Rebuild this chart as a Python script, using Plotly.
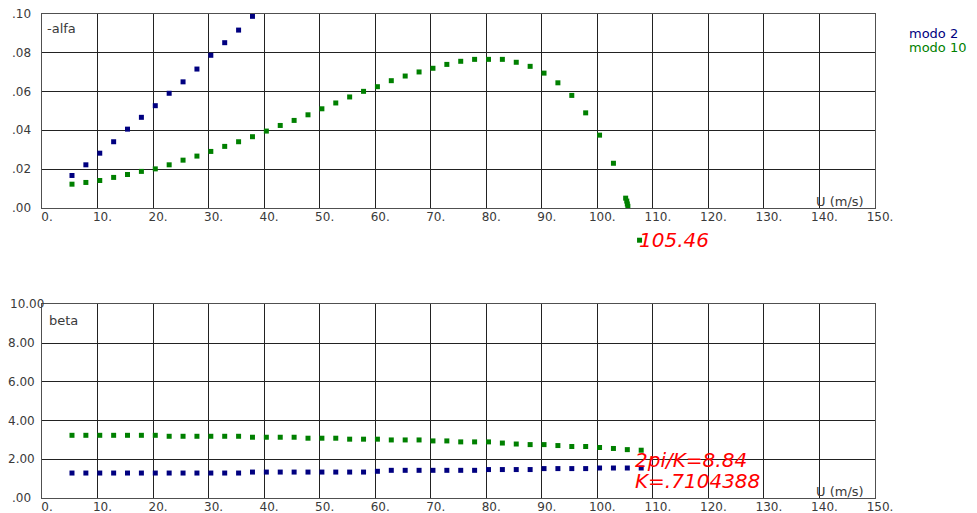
import plotly.graph_objects as go

# ---------------- data ----------------
u_modo2_top = [5.4, 7.9, 10.4, 12.9, 15.4, 17.9, 20.4, 22.9, 25.4, 27.9, 30.4, 32.9, 35.4, 37.9]
alfa_modo2 = [0.0167, 0.0222, 0.0282, 0.0341, 0.0406, 0.0467, 0.0527, 0.0591, 0.0650,
              0.0716, 0.0787, 0.0852, 0.0917, 0.0988]

u_modo10_top = [5.4, 7.9, 10.4, 12.9, 15.4, 17.9, 20.4, 22.9, 25.4, 27.9, 30.4, 32.9, 35.4,
                37.9, 40.4, 42.9, 45.4, 47.9, 50.4, 52.9, 55.4, 57.9, 60.4, 62.9, 65.4, 67.9,
                70.4, 72.9, 75.4, 77.9, 80.4, 82.9, 85.4, 87.9, 90.4, 92.9, 95.4, 97.9, 100.4,
                102.9, 105.1, 105.3, 105.4, 105.5]
alfa_modo10 = [0.0122, 0.0131, 0.0141, 0.0157, 0.0172, 0.0188, 0.0201, 0.0222, 0.0246, 0.0267,
               0.0291, 0.0317, 0.0341, 0.0367, 0.0396, 0.0425, 0.0451, 0.0480, 0.0511, 0.0541,
               0.0572, 0.0601, 0.0625, 0.0656, 0.0680, 0.0701, 0.0720, 0.0740, 0.0756, 0.0766,
               0.0766, 0.0766, 0.0751, 0.0730, 0.0695, 0.0645, 0.0580, 0.0490, 0.0375, 0.0230,
               0.0050, 0.0035, 0.0020, 0.0008]

flutter_u = [107.6]
flutter_alfa = [-0.0167]
flutter_label = "105.46"

u_beta = [5.4, 7.9, 10.4, 12.9, 15.4, 17.9, 20.4, 22.9, 25.4, 27.9, 30.4, 32.9, 35.4, 37.9,
          40.4, 42.9, 45.4, 47.9, 50.4, 52.9, 55.4, 57.9, 60.4, 62.9, 65.4, 67.9, 70.4, 72.9,
          75.4, 77.9, 80.4, 82.9, 85.4, 87.9, 90.4, 92.9, 95.4, 97.9, 100.4, 102.9, 105.4, 107.9]
beta_modo2 = [1.29, 1.29, 1.29, 1.29, 1.29, 1.29, 1.29, 1.29, 1.29, 1.29, 1.29, 1.29, 1.29,
              1.34, 1.34, 1.34, 1.34, 1.34, 1.34, 1.34, 1.34, 1.34, 1.38, 1.43, 1.43, 1.43,
              1.43, 1.43, 1.43, 1.43, 1.47, 1.47, 1.47, 1.47, 1.52, 1.52, 1.52, 1.52, 1.55,
              1.55, 1.55, 1.55]
beta_modo10 = [3.24, 3.24, 3.24, 3.24, 3.24, 3.24, 3.24, 3.19, 3.19, 3.19, 3.19, 3.19, 3.19,
               3.14, 3.14, 3.14, 3.14, 3.09, 3.09, 3.09, 3.04, 3.04, 3.04, 3.00, 3.00, 3.00,
               2.95, 2.95, 2.90, 2.90, 2.90, 2.84, 2.79, 2.76, 2.76, 2.71, 2.66, 2.66, 2.61,
               2.56, 2.50, 2.47]

x_ticks = [0, 10, 20, 30, 40, 50, 60, 70, 80, 90, 100, 110, 120, 130, 140, 150]
x_ticktext = ["0.", "10.", "20.", "30.", "40.", "50.", "60.", "70.", "80.", "90.", "100.",
              "110.", "120.", "130.", "140.", "150."]
alfa_ticks = [0.0, 0.02, 0.04, 0.06, 0.08, 0.10]
alfa_ticktext = [".00", ".02", ".04", ".06", ".08", ".10"]
beta_ticks = [0, 2, 4, 6, 8, 10]
beta_ticktext = [".00", "2.00", "4.00", "6.00", "8.00", "10.00"]

NAVY = "#000080"
GREEN = "#008000"
TXT = "#3a3a3a"
FONT = "DejaVu Sans"

# layout geometry
U_RANGE = [0, 150]
Y1_DOM = [0.5995, 1.0]
Y2_DOM = [0.0, 0.3998]
Y3_DOM = [0.5, 1.0]           # invisible helper axes, same scale as x/y, reaching below
ALFA_RANGE = [0.0, 0.10]
span1 = (ALFA_RANGE[1] - ALFA_RANGE[0]) / (Y1_DOM[1] - Y1_DOM[0])
Y3_RANGE = [ALFA_RANGE[1] - span1 * (Y3_DOM[1] - Y3_DOM[0]), ALFA_RANGE[1]]
LEFT_MARGIN = 34

fig = go.Figure()
mk = dict(symbol="square", size=5, line=dict(width=0))
fig.add_trace(go.Scatter(x=u_modo2_top, y=alfa_modo2, mode="markers", marker=dict(color=NAVY, **mk),
                         xaxis="x", yaxis="y", cliponaxis=False, showlegend=False))
fig.add_trace(go.Scatter(x=u_modo10_top, y=alfa_modo10, mode="markers", marker=dict(color=GREEN, **mk),
                         xaxis="x", yaxis="y", cliponaxis=False, showlegend=False))
fig.add_trace(go.Scatter(x=u_beta, y=beta_modo10, mode="markers", marker=dict(color=GREEN, **mk),
                         xaxis="x2", yaxis="y2", cliponaxis=False, showlegend=False))
fig.add_trace(go.Scatter(x=u_beta, y=beta_modo2, mode="markers", marker=dict(color=NAVY, **mk),
                         xaxis="x2", yaxis="y2", cliponaxis=False, showlegend=False))
fig.add_trace(go.Scatter(x=flutter_u, y=flutter_alfa, mode="markers", marker=dict(color=GREEN, **mk),
                         xaxis="x3", yaxis="y3", cliponaxis=False, showlegend=False))

ax_common = dict(showgrid=True, gridcolor="#222222", gridwidth=1, zeroline=False,
                 showline=True, linecolor="#505050", linewidth=1, mirror=True, ticks="")
xcommon = dict(ax_common, range=U_RANGE, tickmode="array", tickvals=x_ticks, ticktext=x_ticktext,
               tickfont=dict(family=FONT, size=12, color=TXT), ticklabelshift=5,
               ticklabelstandoff=-2, automargin=False)

fig.update_layout(
    width=969, height=505,
    margin=dict(l=LEFT_MARGIN, r=102, t=6, b=15.3, autoexpand=False),
    paper_bgcolor="white", plot_bgcolor="rgba(0,0,0,0)",
    xaxis=dict(xcommon, anchor="y", domain=[0, 1]),
    yaxis=dict(ax_common, range=ALFA_RANGE, domain=Y1_DOM, anchor="x",
               tickvals=alfa_ticks, showticklabels=False),
    xaxis2=dict(xcommon, anchor="y2", domain=[0, 1]),
    yaxis2=dict(ax_common, range=[0, 10], domain=Y2_DOM, anchor="x2",
                tickvals=beta_ticks, showticklabels=False),
    xaxis3=dict(range=U_RANGE, domain=[0, 1], anchor="y3", visible=False, showgrid=False),
    yaxis3=dict(range=Y3_RANGE, domain=Y3_DOM, anchor="x3", visible=False, showgrid=False),
)

tickf = dict(family=FONT, size=12, color=TXT)
ann = []
for v, t in zip(alfa_ticks, alfa_ticktext):
    ann.append(dict(x=0, xref="paper", xshift=-21, y=v, yref="y", text=t, showarrow=False,
                    xanchor="center", yanchor="middle", font=tickf))
for v, t in zip(beta_ticks, beta_ticktext):
    if len(t) > 4:   # widest label: keep it inside the page's left edge
        ann.append(dict(x=0, xref="paper", xshift=-LEFT_MARGIN, y=v, yref="y2", text=t,
                        showarrow=False, xanchor="left", yanchor="middle", font=tickf))
    else:
        ann.append(dict(x=0, xref="paper", xshift=-21, y=v, yref="y2", text=t, showarrow=False,
                        xanchor="center", yanchor="middle", font=tickf))

small = dict(family=FONT, size=13, color=TXT)
ann += [
    dict(x=0, xref="x domain", xshift=3, y=1, yref="y domain", yshift=-14, text="-alfa",
         showarrow=False, xanchor="left", yanchor="middle", font=small),
    dict(x=0, xref="x2 domain", xshift=5, y=1, yref="y2 domain", yshift=-16, text="beta",
         showarrow=False, xanchor="left", yanchor="middle", font=small),
    dict(x=1, xref="x domain", xshift=-9, y=0, yref="y domain", yshift=6, text="U (m/s)",
         showarrow=False, xanchor="right", yanchor="middle", font=small),
    dict(x=1, xref="x2 domain", xshift=-9, y=0, yref="y2 domain", yshift=7, text="U (m/s)",
         showarrow=False, xanchor="right", yanchor="middle", font=small),
    dict(x=1, xref="paper", xshift=32, y=1, yref="paper", yshift=-19, text="modo 2",
         showarrow=False, xanchor="left", yanchor="middle", font=dict(family=FONT, size=13, color=NAVY)),
    dict(x=1, xref="paper", xshift=32, y=1, yref="paper", yshift=-33, text="modo 10",
         showarrow=False, xanchor="left", yanchor="middle", font=dict(family=FONT, size=13, color=GREEN)),
]
red = dict(family=FONT, size=20, color="#ff0000", style="italic")
ann += [
    dict(x=107.2, xref="x3", y=-0.0165, yref="y3", text=flutter_label, showarrow=False,
         xanchor="left", yanchor="middle", font=red),
    dict(x=106.4, xref="x2", y=1.95, yref="y2", text="2pi/K=8.84", showarrow=False,
         xanchor="left", yanchor="middle", font=red),
    dict(x=106.4, xref="x2", y=0.88, yref="y2", text="K=.7104388", showarrow=False,
         xanchor="left", yanchor="middle", font=red),
]
fig.update_layout(annotations=ann)

fig.write_html("out.html")
